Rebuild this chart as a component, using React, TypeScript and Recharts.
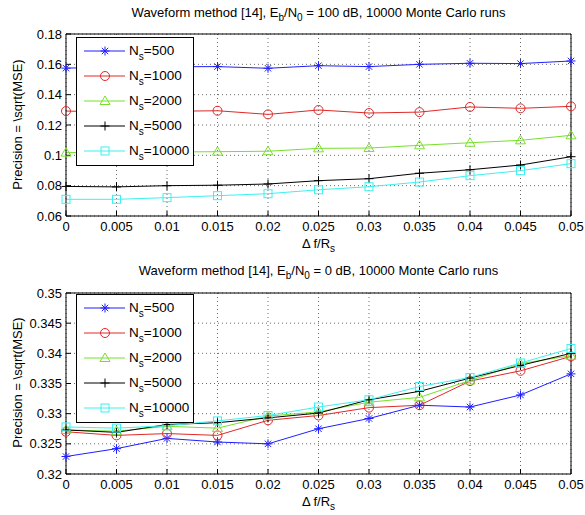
import React from "react";
import { LineChart, Line, XAxis, YAxis, CartesianGrid, Legend } from "recharts";

const deltaF = [0, 0.005, 0.01, 0.015, 0.02, 0.025, 0.03, 0.035, 0.04, 0.045, 0.05];

// Eb/N0 = 100 dB
const ns500Top = [0.1575, 0.1582, 0.1584, 0.1585, 0.1574, 0.1591, 0.1585, 0.16, 0.1607, 0.1605, 0.1622];
const ns1000Top = [0.1292, 0.1285, 0.129, 0.1294, 0.127, 0.1299, 0.1279, 0.1285, 0.1319, 0.131, 0.1323];
const ns2000Top = [0.1018, 0.102, 0.1022, 0.1024, 0.1027, 0.1046, 0.1048, 0.1066, 0.1083, 0.1099, 0.1132];
const ns5000Top = [0.0795, 0.0792, 0.08, 0.0803, 0.0811, 0.0833, 0.0846, 0.0882, 0.0905, 0.0936, 0.0991];
const ns10000Top = [0.071, 0.071, 0.0721, 0.0734, 0.0747, 0.0773, 0.0793, 0.0824, 0.0866, 0.0899, 0.0945];

// Eb/N0 = 0 dB
const ns500Bot = [0.3229, 0.3242, 0.3259, 0.3253, 0.325, 0.3275, 0.3292, 0.3314, 0.3311, 0.3331, 0.3366];
const ns1000Bot = [0.327, 0.3264, 0.3267, 0.3264, 0.3289, 0.3297, 0.331, 0.3314, 0.3354, 0.3371, 0.3395];
const ns2000Bot = [0.3273, 0.3271, 0.3279, 0.3276, 0.3296, 0.3303, 0.3319, 0.3327, 0.3355, 0.3383, 0.3396];
const ns5000Bot = [0.3273, 0.3269, 0.3282, 0.3285, 0.3293, 0.3301, 0.3323, 0.3337, 0.3359, 0.338, 0.34];
const ns10000Bot = [0.3278, 0.3276, 0.328, 0.3288, 0.3297, 0.3311, 0.3323, 0.3345, 0.336, 0.3384, 0.3408];

const xTicks = [0, 0.005, 0.01, 0.015, 0.02, 0.025, 0.03, 0.035, 0.04, 0.045, 0.05];
const yTicksTop = [0.06, 0.08, 0.1, 0.12, 0.14, 0.16, 0.18];
const yTicksBot = [0.32, 0.325, 0.33, 0.335, 0.34, 0.345, 0.35];

const series = [
  { key: "ns500", label: "500", color: "#1f1fff", marker: "star" },
  { key: "ns1000", label: "1000", color: "#e02828", marker: "circle" },
  { key: "ns2000", label: "2000", color: "#77e02a", marker: "triangle" },
  { key: "ns5000", label: "5000", color: "#000000", marker: "plus" },
  { key: "ns10000", label: "10000", color: "#3ff0f0", marker: "square" },
];

const topData = deltaF.map((x, i) => ({
  x,
  ns500: ns500Top[i],
  ns1000: ns1000Top[i],
  ns2000: ns2000Top[i],
  ns5000: ns5000Top[i],
  ns10000: ns10000Top[i],
}));

const botData = deltaF.map((x, i) => ({
  x,
  ns500: ns500Bot[i],
  ns1000: ns1000Bot[i],
  ns2000: ns2000Bot[i],
  ns5000: ns5000Bot[i],
  ns10000: ns10000Bot[i],
}));

const FONT = '"Liberation Sans", Arial, Helvetica, sans-serif';

const Marker = ({ cx, cy, shape, color }: any) => {
  if (cx == null || cy == null) return null;
  const r = 4.5;
  switch (shape) {
    case "star":
      return (
        <g stroke={color} strokeWidth={1} fill="none">
          <line x1={cx - r} x2={cx + r} y1={cy} y2={cy} />
          <line x1={cx} x2={cx} y1={cy - r} y2={cy + r} />
          <line x1={cx - 3.2} x2={cx + 3.2} y1={cy - 3.2} y2={cy + 3.2} />
          <line x1={cx - 3.2} x2={cx + 3.2} y1={cy + 3.2} y2={cy - 3.2} />
        </g>
      );
    case "circle":
      return <circle cx={cx} cy={cy} r={4.5} stroke={color} fill="none" strokeWidth={1} />;
    case "triangle":
      return (
        <polygon
          points={`${cx},${cy - 5} ${cx - 5},${cy + 3.5} ${cx + 5},${cy + 3.5}`}
          stroke={color}
          fill="none"
          strokeWidth={1}
        />
      );
    case "plus":
      return (
        <g stroke={color} strokeWidth={1}>
          <line x1={cx - 4.5} x2={cx + 4.5} y1={cy} y2={cy} />
          <line x1={cx} x2={cx} y1={cy - 4.5} y2={cy + 4.5} />
        </g>
      );
    case "square":
      return <rect x={cx - 4} y={cy - 4} width={8} height={8} stroke={color} fill="none" strokeWidth={1} />;
    default:
      return null;
  }
};

const LegendBox = () => (
  <div
    style={{
      width: 118,
      height: 129,
      border: "1px solid #000",
      boxSizing: "border-box",
      background: "#fff",
    }}
  >
    <svg width={116} height={127} style={{ display: "block" }}>
      {series.map((s, i) => {
        const y = 13 + i * 25;
        return (
          <g key={s.key}>
            <line x1={7} x2={48} y1={y} y2={y} stroke={s.color} strokeWidth={1} />
            <Marker cx={28} cy={y} shape={s.marker} color={s.color} />
            <text x={52} y={y + 4} fontSize={13.5} fontFamily={FONT} fill="#000">
              N
              <tspan fontSize={10} dy={5}>
                s
              </tspan>
              <tspan dy={-5}>={s.label}</tspan>
            </text>
          </g>
        );
      })}
    </svg>
  </div>
);

const Sub = ({ children }: any) => (
  <span style={{ fontSize: 10, position: "relative", top: 4 }}>{children}</span>
);

const Panel = ({ data, domain, yTicks, ebn0, top, height, margin, legendTop }: any) => {
  const plotBottom = height - margin.bottom - 30;
  return (
    <div style={{ position: "absolute", left: 0, top, width: 585, height }}>
      <div
        style={{
          position: "absolute",
          left: 66,
          width: 505,
          top: 5,
          textAlign: "center",
          fontSize: 13,
          whiteSpace: "nowrap",
        }}
      >
        Waveform method [14], E<Sub>b</Sub>/N<Sub>0</Sub> = {ebn0} dB, 10000 Monte Carlo runs
      </div>
      <LineChart
        width={585}
        height={height}
        data={data}
        margin={{ top: margin.top, right: 13, left: 16, bottom: margin.bottom }}
      >
        <CartesianGrid stroke="#6a6a6a" strokeDasharray="1 3" />
        <XAxis
          dataKey="x"
          type="number"
          domain={[0, 0.05]}
          ticks={xTicks}
          interval={0}
          height={30}
          tickSize={-5}
          tickMargin={11}
          axisLine={{ stroke: "#000" }}
          tickLine={{ stroke: "#000" }}
          tick={{ fill: "#000", fontSize: 13, fontFamily: FONT }}
        />
        <XAxis
          xAxisId="top"
          orientation="top"
          dataKey="x"
          type="number"
          domain={[0, 0.05]}
          ticks={xTicks}
          interval={0}
          height={1}
          tickSize={-5}
          tick={false}
          axisLine={{ stroke: "#000" }}
          tickLine={{ stroke: "#000" }}
        />
        <YAxis
          type="number"
          domain={domain}
          ticks={yTicks}
          interval={0}
          width={50}
          tickSize={-5}
          tickMargin={9}
          axisLine={{ stroke: "#000" }}
          tickLine={{ stroke: "#000" }}
          tick={{ fill: "#000", fontSize: 13, fontFamily: FONT }}
        />
        <YAxis
          yAxisId="right"
          orientation="right"
          type="number"
          domain={domain}
          ticks={yTicks}
          interval={0}
          width={1}
          tickSize={-5}
          tick={false}
          axisLine={{ stroke: "#000" }}
          tickLine={{ stroke: "#000" }}
        />
        {series.map((s) => (
          <Line
            key={s.key}
            type="linear"
            dataKey={s.key}
            stroke={s.color}
            strokeWidth={1}
            isAnimationActive={false}
            dot={(p: any) => <Marker key={`${s.key}-${p.index}`} cx={p.cx} cy={p.cy} shape={s.marker} color={s.color} />}
            activeDot={false}
          />
        ))}
        <Legend
          layout="vertical"
          align="center"
          verticalAlign="middle"
          content={() => <LegendBox />}
          wrapperStyle={{ left: 76, top: legendTop, width: 118, height: 129 }}
        />
      </LineChart>
      <div
        style={{
          position: "absolute",
          left: 66,
          width: 505,
          top: plotBottom + 20,
          textAlign: "center",
          fontSize: 13,
          whiteSpace: "nowrap",
        }}
      >
        Δ f/R<Sub>s</Sub>
      </div>
      <div
        style={{
          position: "absolute",
          left: 17 - 100,
          top: margin.top + (plotBottom - margin.top) / 2 - 8,
          width: 200,
          textAlign: "center",
          fontSize: 13,
          transform: "rotate(-90deg)",
          whiteSpace: "nowrap",
        }}
      >
        Precision = \sqrt(MSE)
      </div>
    </div>
  );
};

const App = () => (
  <div
    style={{
      position: "absolute",
      left: 0,
      top: 0,
      width: 585,
      height: 515,
      background: "#fff",
      fontFamily: FONT,
      color: "#000",
    }}
  >
    <Panel
      data={topData}
      domain={[0.06, 0.18]}
      yTicks={yTicksTop}
      ebn0="100"
      top={0}
      height={258}
      margin={{ top: 33, bottom: 12 }}
      legendTop={37}
    />
    <Panel
      data={botData}
      domain={[0.32, 0.35]}
      yTicks={yTicksBot}
      ebn0="0"
      top={258}
      height={257}
      margin={{ top: 34, bottom: 11 }}
      legendTop={36}
    />
  </div>
);

export default App;
